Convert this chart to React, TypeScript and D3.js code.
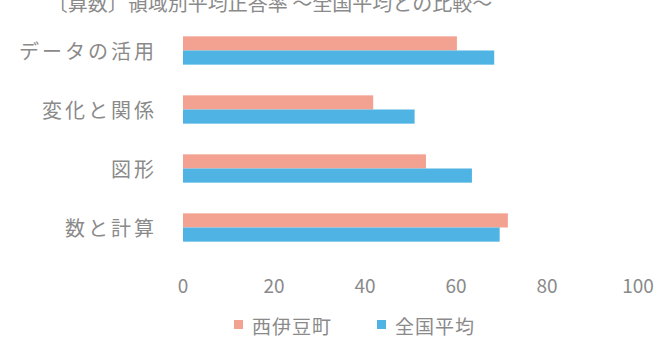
import React from "react";
import * as d3 from "d3";

// Math results by domain: town vs national average (percent correct)
const categories = ["データの活用", "変化と関係", "図形", "数と計算"];
const seriesNames = ["西伊豆町", "全国平均"];
const townValues = [60.2, 41.8, 53.4, 71.4];
const nationalValues = [68.4, 50.9, 63.5, 69.6];
const xTicks = [0, 20, 40, 60, 80, 100];
const seriesColors = ["#F3A292", "#4FB4E4"];
const title = "〔算数〕領域別平均正答率 〜全国平均との比較〜";

const W = 659;
const H = 338;
const FONT = "'Noto Sans CJK JP', 'Noto Sans', sans-serif";
const TEXT = "#8a8a8a";

export default function App() {
  const x = d3.scaleLinear().domain([0, 100]).range([183, 638]);
  const y = d3
    .scaleBand<string>()
    .domain(categories)
    .range([21, 257])
    .paddingInner(0.52)
    .paddingOuter(0.26);
  const inner = d3
    .scaleBand<string>()
    .domain(seriesNames)
    .range([0, y.bandwidth()])
    .padding(0);

  const rows = categories.map((c, i) => ({
    cat: c,
    vals: [townValues[i], nationalValues[i]],
  }));

  return (
    <div style={{ position: "absolute", left: 0, top: 0 }}>
      <svg width={W} height={H} style={{ display: "block", background: "#fff" }}>
        <text
          x={270}
          y={11}
          textAnchor="middle"
          fontFamily={FONT}
          fontSize={20}
          fill={TEXT}
        >
          {title}
        </text>

        {rows.map((r) => (
          <g key={r.cat}>
            {r.vals.map((v, j) => (
              <rect
                key={seriesNames[j]}
                x={x(0)}
                y={(y(r.cat) ?? 0) + (inner(seriesNames[j]) ?? 0)}
                width={x(v) - x(0)}
                height={inner.bandwidth()}
                fill={seriesColors[j]}
              />
            ))}
            <text
              x={157}
              y={(y(r.cat) ?? 0) + y.bandwidth() / 2}
              textAnchor="end"
              dominantBaseline="central"
              fontFamily={FONT}
              fontSize={20}
              letterSpacing={3}
              fill={TEXT}
            >
              {r.cat}
            </text>
          </g>
        ))}

        {xTicks.map((t) => (
          <text
            key={t}
            x={x(t)}
            y={284}
            textAnchor="middle"
            dominantBaseline="central"
            fontFamily={FONT}
            fontSize={19}
            fill={TEXT}
          >
            {t}
          </text>
        ))}

        {seriesNames.map((s, i) => {
          const lx = [234, 377][i];
          return (
            <g key={s}>
              <rect x={lx} y={320} width={9} height={9} fill={seriesColors[i]} />
              <text
                x={lx + 18}
                y={325}
                dominantBaseline="central"
                fontFamily={FONT}
                fontSize={19}
                letterSpacing={1}
                fill={TEXT}
              >
                {s}
              </text>
            </g>
          );
        })}
      </svg>
    </div>
  );
}
